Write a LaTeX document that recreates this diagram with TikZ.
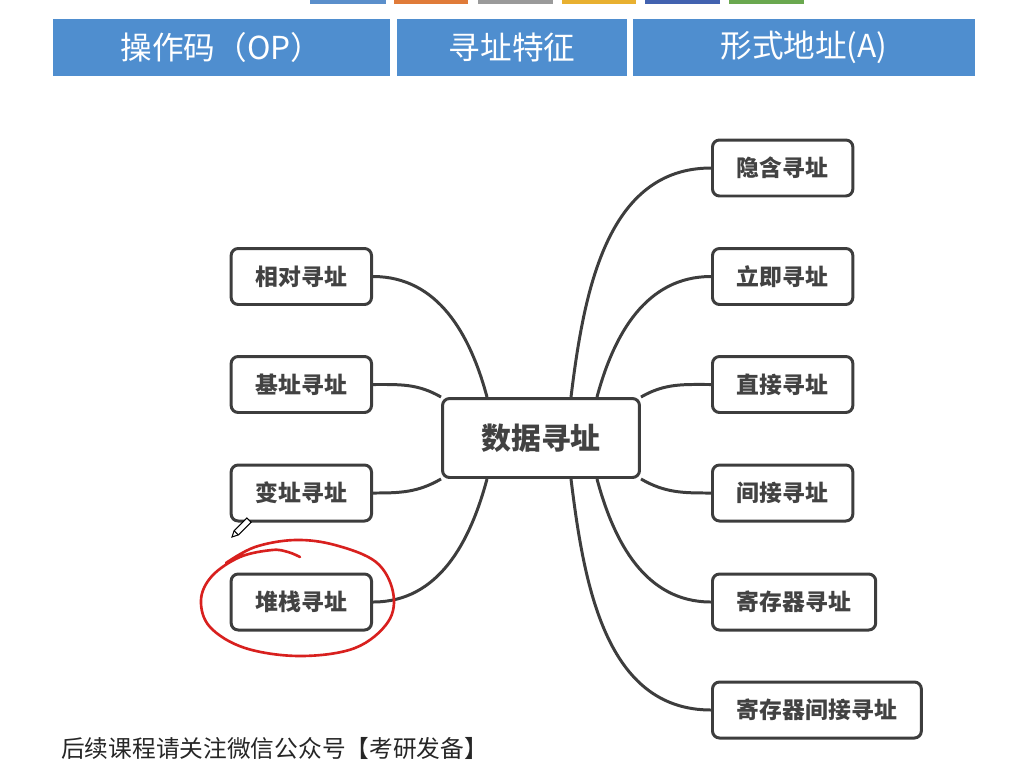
\documentclass[tikz,border=0pt]{standalone}
\usepackage{fontspec}
\setmainfont{Noto Sans CJK SC}
\usetikzlibrary{calc}
\definecolor{linie}{HTML}{3D3D3D}
\definecolor{schrift}{HTML}{424242}
\definecolor{kopfblau}{HTML}{4F8ECF}
\definecolor{rot}{HTML}{D8201E}
\definecolor{leisteA}{HTML}{5B8FCB}
\definecolor{leisteB}{HTML}{E07B39}
\definecolor{leisteC}{HTML}{9A9A9A}
\definecolor{leisteD}{HTML}{E8B030}
\definecolor{leisteE}{HTML}{4262B0}
\definecolor{leisteF}{HTML}{6AA84F}
\tikzset{
  blatt/.style={draw=linie,line width=1.7pt,rounded corners=4pt,text=schrift,
    font=\fontsize{13}{15}\selectfont\bfseries,inner xsep=0.49cm,minimum height=1.12cm},
  kern/.style={blatt,minimum width=3.94cm,minimum height=1.58cm,
    font=\fontsize{17}{20}\selectfont\bfseries},
  ast/.style={linie,line width=1.7pt},
  kopf/.style={fill=kopfblau,text=white,minimum height=1.14cm,inner sep=0pt,
    font=\fontsize{18}{21}\selectfont},
  kringel/.style={rot,line width=1.5pt,line cap=round,line join=round},
}

\begin{document}
\begin{tikzpicture}[x=0.02cm,y=0.02cm]
  \useasboundingbox (0,0) rectangle (1028,-762);
  % farbleiste oben (abgeschnitten)
  \fill[leisteA] (310,-4) rectangle (386,10);
  \fill[leisteB] (394,-4) rectangle (468,10);
  \fill[leisteC] (478,-4) rectangle (553,10);
  \fill[leisteD] (562,-4) rectangle (636,10);
  \fill[leisteE] (645,-4) rectangle (720,10);
  \fill[leisteF] (729,-4) rectangle (804,10);
  % kopfzeile
  \node[kopf,minimum width=6.74cm] (op) at (221.5,-47.5) {操作码（OP）};
  \node[kopf,minimum width=4.6cm] (merk) at (512,-47.5) {寻址特征};
  \node[kopf,minimum width=6.84cm] (adr) at (804,-47.5) {形式地址(A)};
  % knoten
  \node[kern] (dz) at (541,-438) {数据寻址};
  \node[blatt,anchor=east] (rel) at (373,-276.5) {相对寻址};
  \node[blatt,anchor=east] (basis) at (373,-384.5) {基址寻址};
  \node[blatt,anchor=east] (index) at (373,-493) {变址寻址};
  \node[blatt,anchor=east] (stapel) at (373,-602) {堆栈寻址};
  \node[blatt,anchor=west] (impl) at (711,-168) {隐含寻址};
  \node[blatt,anchor=west] (sofort) at (711,-276.5) {立即寻址};
  \node[blatt,anchor=west] (direkt) at (711,-384.5) {直接寻址};
  \node[blatt,anchor=west] (indir) at (711,-493) {间接寻址};
  \node[blatt,anchor=west] (reg) at (711,-602) {寄存器寻址};
  \node[blatt,anchor=west] (regind) at (711,-710) {寄存器间接寻址};
  % aeste
  \draw[ast] ($(dz.north)+(30,0)$) to[out=83,in=180] (impl.west);
  \draw[ast] ($(dz.north)+(56,0)$) to[out=75,in=180] (sofort.west);
  \draw[ast] (dz.north east) to[out=30,in=180] (direkt.west);
  \draw[ast] (dz.south east) to[out=-30,in=180] (indir.west);
  \draw[ast] ($(dz.south)+(56,0)$) to[out=-75,in=180] (reg.west);
  \draw[ast] ($(dz.south)+(30,0)$) to[out=-83,in=180] (regind.west);
  \draw[ast] ($(dz.north)+(-54,0)$) to[out=105,in=0] (rel.east);
  \draw[ast] (dz.north west) to[out=150,in=0] (basis.east);
  \draw[ast] (dz.south west) to[out=210,in=0] (index.east);
  \draw[ast] ($(dz.south)+(-54,0)$) to[out=-105,in=0] (stapel.east);
  % roter kreis
  \draw[kringel] plot[smooth,tension=0.6] coordinates {(300,-557) (288,-552) (272,-550)
    (240,-557) (212,-576) (201,-600) (210,-627) (245,-648) (300,-656) (355,-648)
    (388,-622) (393,-592) (376,-562) (335,-545) (295,-540) (255,-547) (226,-563)};
  % stift
  \begin{scope}[shift={(232,-537)},rotate=45]
    \draw[fill=white,line width=0.6pt] (0,0) -- (6,-3) -- (24,-3) -- (24,3) -- (6,3) -- cycle;
    \draw[line width=0.6pt] (6,-3) -- (6,3);
  \end{scope}
  % hinweis unten
  \node[anchor=west,text=black!85,font=\fontsize{13.5}{15}\selectfont] (hinweis)
    at (55,-748) {后续课程请关注微信公众号【考研发备】};
\end{tikzpicture}
\end{document}
